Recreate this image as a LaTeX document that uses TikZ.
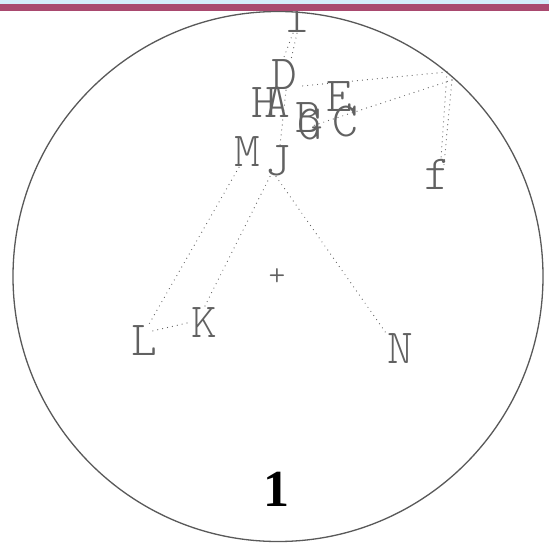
\documentclass[tikz,border=0pt]{standalone}
\usepackage{fontspec}
\newfontfamily\plotfont{Latin Modern Mono Light}
\newfontfamily\numfont{Liberation Serif}
\definecolor{bandblue}{HTML}{D4ECFA}
\definecolor{bandmag}{HTML}{A9496F}
\begin{document}
\begin{tikzpicture}[x=1pt,y=-1pt,
  lett/.style={font=\plotfont\fontsize{49}{49}\selectfont, text=black!62, inner sep=0pt},
  small/.style={font=\plotfont\fontsize{32}{32}\selectfont, text=black!62, inner sep=0pt},
  dotline/.style={draw=black!62, line width=1.2pt, line cap=round, dash pattern=on 0pt off 5pt},
  rim/.style={draw=black!65, line width=1.3pt},
]
\useasboundingbox (0,0) rectangle (549,546);
\fill[white] (0,0) rectangle (549,546);
\draw[rim] (278,276.5) circle[radius=265pt];
% letters
\node[lett] (I) at (297,18) {I};
\node[lett] (D) at (284,75) {D};
\node[lett] (H) at (264,103) {H};
\node[lett] (A) at (277,102) {A};
\node[lett] (B) at (308,118) {B};
\node[lett] (G) at (310,125) {G};
\node[lett] (E) at (339,97) {E};
\node[lett] (C) at (345,122) {C};
\node[lett] (M) at (247,152) {M};
\node[lett] (J) at (278,161) {J};
\node[lett] (f) at (437,174) {f};
\node[small] (P) at (277,277) {+};
\node[lett] (K) at (204,323) {K};
\node[lett] (L) at (144,341) {L};
\node[lett] (N) at (400,349) {N};
\node[font=\numfont\bfseries\fontsize{52}{52}\selectfont, inner sep=0pt] (one) at (276,489) {1};
% connector ends
\coordinate (hub) at (447,72);
\coordinate (hubb) at (452,80);
\coordinate (Dr) at (302,86);
\coordinate (Gr) at (312,126);
% dotted connectors
\draw[dotline] ([xshift=-4pt]I.south) -- ([xshift=-1pt]D.north);
\draw[dotline] ([xshift=0pt]I.south) -- ([xshift=7pt]D.north);
\draw[dotline] (hub) -- (Dr);
\draw[dotline] (hubb) -- (Gr);
\draw[dotline] (hub) -- ([xshift=4pt]f.north);
\draw[dotline] (hubb) -- ([xshift=7pt,yshift=-6pt]f.north);
\draw[dotline] ([xshift=2pt]D.south) -- ([xshift=2pt]J.north);
\draw[dotline] ([xshift=-8pt]M.south) -- ([xshift=4pt]L.north);
\draw[dotline] ([xshift=-8pt]J.south) -- (K.north);
\draw[dotline] ([xshift=-4pt]K.west) -- ([xshift=5pt,yshift=-6pt]L.north);
\draw[dotline] ([xshift=-2pt]J.south) -- ([xshift=-12pt,yshift=-2pt]N.north);
% top band
\fill[bandblue] (0,0) rectangle (549,4);
\fill[bandmag] (0,4) rectangle (549,10.5);
\end{tikzpicture}
\end{document}
